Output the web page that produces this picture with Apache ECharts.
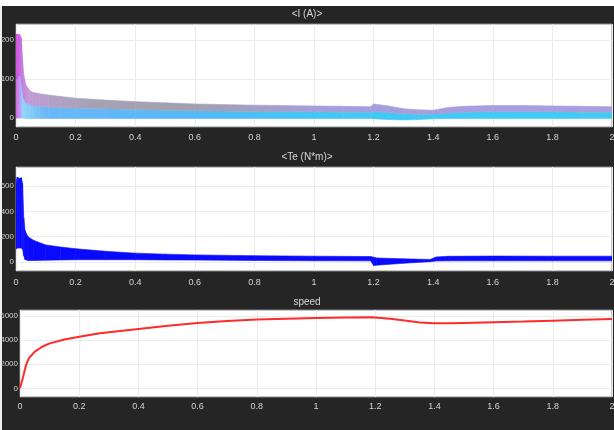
<!DOCTYPE html>
<html>
<head>
<meta charset="utf-8">
<script src="https://cdn.jsdelivr.net/npm/echarts@6/dist/echarts.min.js"></script>
<style>
  html, body { margin: 0; padding: 0; background: #252525; }
  #chart { width: 614px; height: 430px; }
</style>
</head>
<body>
<div id="chart"></div>
<script>
// ---------- Data ----------
const panelTitles = ['<I (A)>', '<Te (N*m)>', 'speed'];
const xTicks = [0, 0.2, 0.4, 0.6, 0.8, 1, 1.2, 1.4, 1.6, 1.8, 2];
const iTicks = [0, 100, 200];
const teTicks = [0, 200, 400, 600];
const speedTicks = [0, 2000, 4000, 6000];

// Stator current envelope (dense 3-phase oscillation band)
const iTime  = [0, 0.004, 0.012, 0.018, 0.022, 0.026, 0.033, 0.045, 0.055, 0.08, 0.11, 0.15, 0.2, 0.3, 0.4, 0.5, 0.6, 0.8, 1.0, 1.1, 1.19, 1.2, 1.25, 1.3, 1.35, 1.4, 1.45, 1.5, 1.6, 1.7, 1.8, 1.9, 2.0];
const iUpper = [215, 215, 215, 205, 150, 110, 85, 72, 66, 62, 59, 55, 51, 46, 42, 39, 36, 33, 31, 30, 29, 36, 31, 24, 21, 20, 27, 30, 32, 32, 31, 30, 29];
const iMid   = [100, 100, 110, 100, 70, 50, 40, 35, 32, 30, 28, 27, 26, 24, 22, 20, 19, 17, 16, 15, 15, 17, 14, 11, 10, 10, 13, 15, 16, 16, 16, 15, 15];
const iLower = [0, 0, 0, 0, 0, 0, -1, -1, -1, -1, -1, -1, -1, -1, -1, -1, -1, -1, -1, -1, -1, -2, -4, -5, -4, -2, -1, -1, -1, -1, -1, -1, -1];

// Electromagnetic torque envelope
const teTime  = [0, 0.004, 0.012, 0.018, 0.022, 0.026, 0.03, 0.04, 0.06, 0.1, 0.15, 0.2, 0.3, 0.4, 0.5, 0.6, 0.8, 1.0, 1.19, 1.2, 1.21, 1.3, 1.39, 1.41, 1.45, 1.6, 1.8, 2.0];
const teUpper = [620, 670, 660, 665, 620, 350, 250, 200, 170, 135, 118, 105, 85, 70, 62, 56, 50, 46, 43, 38, 32, 25, 20, 40, 45, 47, 46, 46];
const teLower = [100, 110, 110, 110, 100, 50, 20, 12, 12, 14, 16, 18, 18, 18, 16, 15, 12, 10, 9, -28, -25, -10, 3, 8, 9, 9, 9, 9];

// Rotor speed
const speedTime   = [0, 0.01, 0.02, 0.03, 0.05, 0.075, 0.1, 0.15, 0.2, 0.27, 0.3, 0.4, 0.5, 0.6, 0.7, 0.8, 0.9, 1.0, 1.1, 1.19, 1.25, 1.3, 1.35, 1.4, 1.45, 1.5, 1.6, 1.7, 1.8, 1.9, 2.0];
const speedValues = [0, 900, 1900, 2500, 3050, 3450, 3730, 4050, 4280, 4560, 4650, 4930, 5200, 5420, 5580, 5700, 5780, 5830, 5870, 5890, 5780, 5620, 5470, 5390, 5390, 5420, 5480, 5540, 5610, 5680, 5750];

// ---------- Helpers ----------
const zip = (xs, ys) => xs.map((x, k) => [x, ys[k]]);
// one row per segment: [t0, low0, high0, t1, low1, high1]
const bandSegments = (ts, lo, hi) => ts.slice(0, -1).map((t, k) => [t, lo[k], hi[k], ts[k + 1], lo[k + 1], hi[k + 1]]);

const FONT = "'Liberation Sans Narrow', 'Liberation Sans', 'DejaVu Sans', sans-serif";
const LABEL_COLOR = '#d4d4d4';

function bandRenderer(makeFill) {
  return function (params, api) {
    const a = api.coord([api.value(0), api.value(1)]);
    const b = api.coord([api.value(0), api.value(2)]);
    const c = api.coord([api.value(3), api.value(5)]);
    const d = api.coord([api.value(3), api.value(4)]);
    const fill = makeFill(api);
    return {
      type: 'polygon',
      shape: { points: [a, b, c, d] },
      style: { fill: fill, stroke: fill, lineWidth: 0.6 }
    };
  };
}
function xGradient(api, stops) {
  const x0 = api.coord([xTicks[0], 0])[0];
  const x1 = api.coord([xTicks[xTicks.length - 1], 0])[0];
  return new echarts.graphic.LinearGradient(x0, 0, x1, 0, stops, true);
}

const grids = [
  { left: 16, top: 24, width: 596, height: 103 },
  { left: 16, top: 167, width: 596, height: 104 },
  { left: 20, top: 310, width: 592, height: 87 }
];
const yRanges = [[-23, 241], [-71, 750], [-722, 6498]];
const yTickSets = [iTicks, teTicks, speedTicks];
const xLabelMargins = [6, 7, 5];

const option = {
  backgroundColor: '#252525',
  animation: false,
  title: [
    { text: panelTitles[0], left: 'center', top: 9 },
    { text: panelTitles[1], left: 'center', top: 152 },
    { text: panelTitles[2], left: 'center', top: 297 }
  ].map(t => Object.assign(t, { padding: 0, textStyle: { color: '#d8d8d8', fontSize: 10, fontWeight: 'normal', fontFamily: FONT } })),
  graphic: [
    { type: 'rect', shape: { x: 0, y: 0, width: 614, height: 6 }, style: { fill: '#ffffff' }, silent: true, z: -10 },
    { type: 'rect', shape: { x: 0, y: 6, width: 2, height: 424 }, style: { fill: '#efefef' }, silent: true, z: -10 }
  ],
  grid: grids.map(g => Object.assign({}, g, {
    containLabel: false, outerBoundsMode: 'none',
    show: true, backgroundColor: '#ffffff', borderColor: '#8a8a8a', borderWidth: 1
  })),
  xAxis: grids.map((g, k) => ({
    type: 'value', gridIndex: k, min: xTicks[0], max: xTicks[xTicks.length - 1],
    axisLabel: { customValues: xTicks, color: LABEL_COLOR, fontSize: 9, fontFamily: FONT, margin: xLabelMargins[k],
                 formatter: v => String(v) },
    axisTick: { show: false, customValues: xTicks },
    axisLine: { show: false },
    splitLine: { show: true, lineStyle: { color: '#ebebeb', width: 1 } }
  })),
  yAxis: grids.map((g, k) => ({
    type: 'value', gridIndex: k, min: yRanges[k][0], max: yRanges[k][1],
    axisLabel: { customValues: yTickSets[k], color: LABEL_COLOR, fontSize: 8, fontFamily: FONT, margin: 2,
                 formatter: v => String(v) },
    axisTick: { show: false, customValues: yTickSets[k] },
    axisLine: { show: false },
    splitLine: { show: true, lineStyle: { color: '#ebebeb', width: 1 } }
  })),
  series: [
    {
      name: 'I lower band', type: 'custom', xAxisIndex: 0, yAxisIndex: 0, clip: true, silent: true,
      encode: { x: [0, 3], y: [1, 2, 4, 5] },
      data: bandSegments(iTime, iLower, iMid),
      renderItem: bandRenderer(api => xGradient(api, [
        { offset: 0, color: '#e060e8' }, { offset: 0.012, color: '#8fd4f8' },
        { offset: 0.05, color: '#6ab8f6' }, { offset: 0.3, color: '#55b8f8' },
        { offset: 0.5, color: '#40c8f2' }, { offset: 1, color: '#3fcdf2' }
      ]))
    },
    {
      name: 'I upper band', type: 'custom', xAxisIndex: 0, yAxisIndex: 0, clip: true, silent: true,
      encode: { x: [0, 3], y: [1, 2, 4, 5] },
      data: bandSegments(iTime, iMid, iUpper),
      renderItem: bandRenderer(api => xGradient(api, [
        { offset: 0, color: '#d84ae0' }, { offset: 0.008, color: '#c070e0' },
        { offset: 0.02, color: '#c49ad8' }, { offset: 0.06, color: '#b4a0c8' },
        { offset: 0.12, color: '#a6a2b6' }, { offset: 0.3, color: '#a2a0b0' },
        { offset: 0.5, color: '#a49edc' }, { offset: 1, color: '#a89ee0' }
      ]))
    },
    {
      name: 'Te band', type: 'custom', xAxisIndex: 1, yAxisIndex: 1, clip: true, silent: true,
      encode: { x: [0, 3], y: [1, 2, 4, 5] },
      data: bandSegments(teTime, teLower, teUpper),
      renderItem: bandRenderer(() => '#0a0aff')
    },
    {
      name: 'speed', type: 'line', xAxisIndex: 2, yAxisIndex: 2,
      data: zip(speedTime, speedValues), symbol: 'none', silent: true,
      lineStyle: { width: 2, color: '#ff2a2a' }
    }
  ]
};

const chart = echarts.init(document.getElementById('chart'), null, { renderer: 'canvas' });
chart.setOption(option);
</script>
</body>
</html>
